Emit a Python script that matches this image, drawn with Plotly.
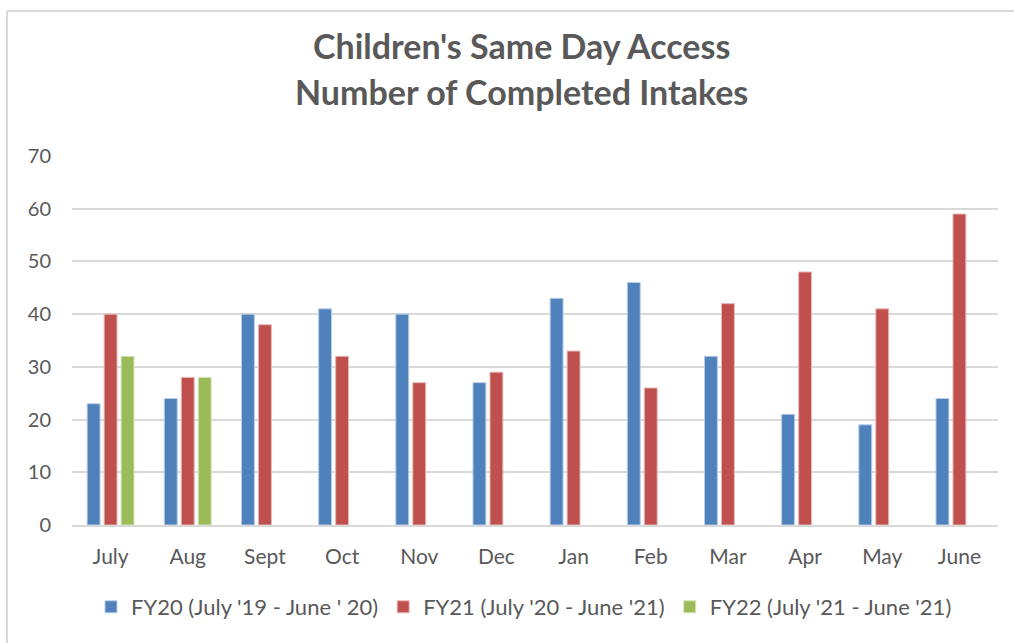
import plotly.graph_objects as go

months = ["July", "Aug", "Sept", "Oct", "Nov", "Dec", "Jan", "Feb", "Mar", "Apr", "May", "June"]
fy20 = [23, 24, 40, 41, 40, 27, 43, 46, 32, 21, 19, 24]
fy21 = [40, 28, 38, 32, 27, 29, 33, 26, 42, 48, 41, 59]
fy22 = [32, 28, None, None, None, None, None, None, None, None, None, None]
names = ["FY20 (July '19 - June ' 20)", "FY21 (July '20 - June '21)", "FY22 (July '21 - June '21)"]
title_lines = ["Children's Same Day Access", "Number of Completed Intakes"]
colors = ["#4F81BD", "#C0504D", "#9BBB59"]
edge = ["#B9CDE5", "#E6B9B8", "#D7E4BD"]

FONT = "Lato"
fig = go.Figure()
for vals, nm, c, e in zip([fy20, fy21, fy22], names, colors, edge):
    fig.add_trace(go.Bar(x=months, y=vals, name=nm, marker=dict(color=c, line=dict(color=e, width=1))))

W, H = 1014, 643
L, R, T, B = 72, 16, 156, 118
pw, ph = W - L - R, H - T - B
def px(x): return (x - L) / pw
def py(y): return (H - B - y) / ph

annos = []
for line, yc in zip(title_lines, [45, 92]):
    annos.append(dict(text="<b>%s</b>" % line, xref="paper", yref="paper", x=px(521), y=py(yc),
                      xanchor="center", yanchor="middle", showarrow=False,
                      font=dict(family=FONT, size=34, color="#595959")))

fig.update_layout(
    width=W, height=H,
    margin=dict(l=L, r=R, t=T, b=B),
    paper_bgcolor="white", plot_bgcolor="white",
    barmode="group", bargap=0.34, bargroupgap=0.24,
    font=dict(family=FONT, size=20, color="#595959"),
    annotations=annos,
    legend=dict(orientation="h", x=px(524), xanchor="center", y=py(607), yanchor="middle",
                font=dict(size=22, color="#595959"), itemwidth=30, traceorder="normal"),
    xaxis=dict(showgrid=False, ticks="", showline=True, linecolor="#D9D9D9", linewidth=2,
               ticklabelstandoff=12, tickfont=dict(size=21, color="#595959")),
    yaxis=dict(range=[0, 70], dtick=10, showgrid=True, gridcolor="#D9D9D9", gridwidth=2,
               zeroline=False, ticks="", showline=False, ticklabelstandoff=20,
               tickfont=dict(size=20, color="#595959")),
    shapes=[dict(type="line", xref="paper", yref="paper", x0=px(7), x1=px(7), y0=py(700), y1=py(11),
                 line=dict(color="#D9D9D9", width=2)),
            dict(type="line", xref="paper", yref="paper", x0=px(7), x1=px(1100), y0=py(11), y1=py(11),
                 line=dict(color="#D9D9D9", width=2))],
)
fig.write_html("out.html", config={"displayModeBar": False},
               post_script="document.body.style.margin='0';")
